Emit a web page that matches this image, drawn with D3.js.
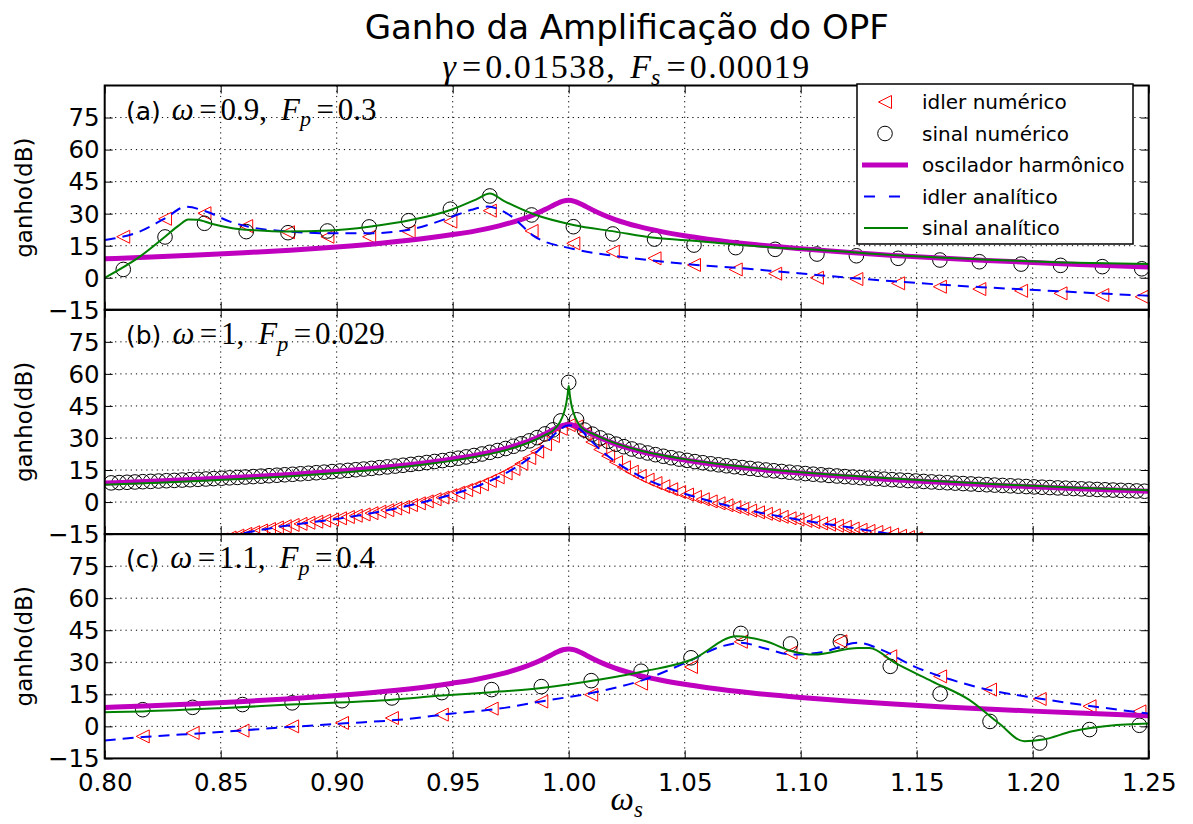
<!DOCTYPE html>
<html>
<head>
<meta charset="utf-8">
<script src="https://cdn.jsdelivr.net/npm/d3@7"></script>
<style>
  body { margin: 0; background: #fff; }
  svg { display: block; }
</style>
</head>
<body>
<svg id="fig" width="1193" height="824"></svg>
<script>
// ---------- axis ticks ----------
const xTicks = [0.80, 0.85, 0.90, 0.95, 1.00, 1.05, 1.10, 1.15, 1.20, 1.25];
const yTicks = [-15, 0, 15, 30, 45, 60, 75];

// ---------- harmonic oscillator gain (same in all panels) ----------
const hoOmega = [0.80, 0.82, 0.84, 0.86, 0.88, 0.90, 0.92, 0.94, 0.95, 0.96, 0.97, 0.98, 0.985, 0.99, 0.9925, 0.995, 0.9975, 1.0,
                 1.0025, 1.005, 1.0075, 1.01, 1.015, 1.02, 1.03, 1.04, 1.05, 1.06, 1.08, 1.10, 1.12, 1.14, 1.16, 1.18, 1.20, 1.22, 1.25];
const hoGain  = [8.87, 9.69, 10.62, 11.69, 12.93, 14.42, 16.27, 18.68, 20.22, 21.96, 24.30, 27.46, 29.52, 32.02, 33.41, 34.77, 35.85, 36.26,
                 35.80, 34.69, 33.31, 31.90, 29.37, 27.26, 24.02, 21.60, 19.68, 18.09, 15.53, 13.55, 11.89, 10.47, 9.23, 8.13, 7.13, 6.22, 5.00];

// ---------- panel (a): omega = 0.9, Fp = 0.3 ----------
const aNumOmega = [0.808, 0.826, 0.843, 0.861, 0.879, 0.896, 0.914, 0.931, 0.949, 0.966, 0.984, 1.002, 1.019,
                   1.037, 1.054, 1.072, 1.089, 1.107, 1.124, 1.142, 1.160, 1.177, 1.195, 1.212, 1.230, 1.247];
const aIdlerNum = [19.2, 27.6, 30.2, 24.2, 21.3, 19.2, 19.2, 21.6, 26.3, 31.4, 21.9, 16.1, 12.2,
                   9.1, 6.0, 3.9, 1.9, 0.0, -0.6, -2.6, -4.2, -5.3, -6.1, -7.3, -8.1, -8.9];
const aSinalNum = [3.9, 19.1, 25.5, 21.6, 21.1, 21.9, 23.8, 26.7, 32.1, 38.3, 29.4, 23.9, 20.5,
                   18.1, 15.3, 14.1, 13.3, 11.1, 10.3, 9.1, 8.3, 7.5, 6.4, 5.8, 5.2, 4.2];
const aIdlerAnaOmega = [0.800, 0.815, 0.826, 0.835, 0.844, 0.854, 0.862, 0.880, 0.897, 0.913, 0.932, 0.949, 0.958, 0.965, 0.975,
                        0.985, 1.002, 1.020, 1.037, 1.055, 1.072, 1.090, 1.108, 1.125, 1.143, 1.160, 1.178, 1.195, 1.213, 1.230, 1.250];
const aIdlerAna = [17.7, 21.6, 27.8, 33.2, 30.9, 26.3, 23.9, 21.6, 20.8, 20.8, 22.7, 28.3, 31.8, 33.3, 29.0,
                   19.5, 13.5, 10.2, 8.0, 6.0, 4.7, 3.0, 1.2, -0.4, -1.9, -3.2, -4.4, -5.4, -6.4, -7.4, -8.4];
const aSinalAnaOmega = [0.800, 0.815, 0.826, 0.832, 0.836, 0.840, 0.846, 0.855, 0.865, 0.878, 0.897, 0.914, 0.932, 0.950, 0.960,
                        0.966, 0.972, 0.985, 1.002, 1.020, 1.037, 1.055, 1.072, 1.090, 1.108, 1.143, 1.178, 1.213, 1.250];
const aSinalAna = [0.0, 9.8, 19.2, 24.5, 27.3, 27.2, 25.3, 23.2, 22.2, 21.6, 22.1, 23.9, 27.0, 32.1, 36.6,
                   39.4, 36.0, 29.7, 24.7, 21.6, 18.7, 17.2, 15.6, 14.1, 13.0, 10.4, 8.6, 7.2, 6.4];

// ---------- panel (b): omega = 1, Fp = 0.029 ----------
const bNumOmega = [
  0.8028, 0.8062, 0.8096, 0.8130, 0.8164, 0.8198, 0.8232, 0.8266, 0.8300, 0.8334,
  0.8368, 0.8402, 0.8436, 0.8470, 0.8504, 0.8538, 0.8572, 0.8606, 0.8640, 0.8674,
  0.8708, 0.8742, 0.8776, 0.8810, 0.8844, 0.8878, 0.8912, 0.8946, 0.8980, 0.9014,
  0.9048, 0.9082, 0.9116, 0.9150, 0.9184, 0.9218, 0.9252, 0.9286, 0.9320, 0.9354,
  0.9388, 0.9422, 0.9456, 0.9490, 0.9524, 0.9558, 0.9592, 0.9626, 0.9660, 0.9694,
  0.9728, 0.9762, 0.9796, 0.9830, 0.9864, 0.9898, 0.9932, 0.9966, 1.0000,
  1.0034, 1.0068, 1.0102, 1.0136, 1.0170, 1.0204, 1.0238, 1.0272, 1.0306, 1.0340,
  1.0374, 1.0408, 1.0442, 1.0476, 1.0510, 1.0544, 1.0578, 1.0612, 1.0646, 1.0680,
  1.0714, 1.0748, 1.0782, 1.0816, 1.0850, 1.0884, 1.0918, 1.0952, 1.0986, 1.1020,
  1.1054, 1.1088, 1.1122, 1.1156, 1.1190, 1.1224, 1.1258, 1.1292, 1.1326, 1.1360,
  1.1394, 1.1428, 1.1462, 1.1496, 1.1530, 1.1564, 1.1598, 1.1632, 1.1666, 1.1700,
  1.1734, 1.1768, 1.1802, 1.1836, 1.1870, 1.1904, 1.1938, 1.1972, 1.2006, 1.2040,
  1.2074, 1.2108, 1.2142, 1.2176, 1.2210, 1.2244, 1.2278, 1.2312, 1.2346, 1.2380,
  1.2414, 1.2448, 1.2482];
const bSinalNum = [
  8.98, 9.12, 9.25, 9.40, 9.54, 9.68, 9.84, 9.99, 10.14, 10.30,
  10.46, 10.63, 10.80, 10.98, 11.16, 11.34, 11.53, 11.72, 11.92, 12.12,
  12.33, 12.55, 12.77, 13.00, 13.24, 13.48, 13.73, 13.99, 14.26, 14.54,
  14.83, 15.13, 15.44, 15.77, 16.11, 16.46, 16.83, 17.22, 17.63, 18.06,
  18.51, 18.99, 19.42, 19.95, 20.53, 21.13, 21.79, 22.50, 23.28, 24.13,
  25.07, 26.12, 27.30, 28.64, 30.16, 31.90, 33.78, 38.0, 56.0,
  38.5, 33.72, 31.80, 30.03, 28.48, 27.12, 25.91, 24.84, 23.87, 22.98,
  22.18, 21.43, 20.75, 20.11, 19.51, 18.94, 18.41, 17.91, 17.44, 16.99,
  16.55, 16.14, 15.74, 15.36, 15.00, 14.65, 14.31, 13.97, 13.65, 13.34,
  13.04, 12.75, 12.47, 12.20, 11.93, 11.68, 11.43, 11.18, 10.95, 10.72,
  10.49, 10.28, 10.07, 9.85, 9.65, 9.44, 9.24, 9.04, 8.85, 8.66,
  8.48, 8.29, 8.11, 7.94, 7.77, 7.60, 7.43, 7.26, 7.10, 6.94,
  6.79, 6.63, 6.48, 6.33, 6.18, 6.04, 5.89, 5.75, 5.61, 5.47,
  5.33, 5.20, 5.07];
const bIdlerNum = [
  null, null, null, null, null, null, null, null, null, null,
  null, null, null, null, -17.5, -16.6, -15.7, -14.9, -14.1, -13.3,
  -12.6, -11.9, -11.3, -10.7, -10.2, -9.7, -9.2, -8.7, -8.2, -7.6,
  -7.0, -6.4, -5.8, -5.2, -4.5, -3.8, -3.0, -2.3, -1.4, -0.6,
  0.3, 1.3, 2.1, 3.2, 4.4, 5.6, 6.9, 8.3, 9.9, 11.6,
  13.4, 15.5, 17.9, 20.6, 23.6, 27.1, 30.9, 34.3, 36.0,
  35.4, 31.9, 28.1, 24.6, 21.5, 18.7, 16.3, 14.2, 12.2, 10.5,
  8.9, 7.4, 6.0, 4.7, 3.5, 2.4, 1.3, 0.3, -0.6, -1.5,
  -2.4, -3.2, -4.0, -4.8, -5.5, -6.2, -6.9, -7.6, -8.2, -8.8,
  -9.4, -10.0, -10.6, -11.1, -11.6, -12.4, -13.0, -13.5, -14.0, -14.6,
  -15.2, -15.8, -16.4, -17.0, null, null, null, null, null, null,
  null, null, null, null, null, null, null, null, null, null,
  null, null, null, null, null, null, null, null, null, null,
  null, null, null];
const bIdlerAnaOmega = [0.845, 0.86, 0.88, 0.90, 0.92, 0.94, 0.95, 0.96, 0.97, 0.98, 0.985, 0.99, 0.995, 1.0,
                        1.005, 1.01, 1.015, 1.02, 1.03, 1.04, 1.05, 1.06, 1.08, 1.10, 1.12, 1.14, 1.155];
const bIdlerAna = [-19.0, -14.6, -10.8, -7.9, -4.2, 0.7, 3.7, 7.2, 11.9, 18.2, 22.3, 27.3, 32.8, 36.0,
                   33.9, 28.3, 23.2, 19.0, 12.5, 7.7, 3.9, 0.7, -4.4, -8.4, -11.7, -15.2, -18.0];
const bSinalAnaOmega = [0.80, 0.82, 0.84, 0.86, 0.88, 0.90, 0.92, 0.94, 0.95, 0.96, 0.97, 0.98, 0.985, 0.99, 0.993,
                        0.996, 0.998, 0.999, 0.9995, 1.0, 1.0005, 1.001, 1.002, 1.004, 1.007, 1.01, 1.015, 1.02,
                        1.03, 1.04, 1.05, 1.06, 1.08, 1.10, 1.12, 1.14, 1.16, 1.18, 1.20, 1.22, 1.25];
const bSinalAna = [8.1, 8.9, 9.8, 10.9, 12.1, 13.6, 15.5, 17.9, 19.4, 21.2, 23.5, 26.7, 28.8, 31.4, 33.3,
                   37.0, 42.0, 46.5, 50.0, 54.5, 50.0, 46.5, 42.0, 37.0, 33.6, 32.2, 29.7, 27.6,
                   24.4, 22.0, 20.1, 18.5, 16.0, 14.0, 12.4, 11.0, 9.7, 8.6, 7.6, 6.7, 5.5];

// ---------- panel (c): omega = 1.1, Fp = 0.4 ----------
const cNumOmega = [0.8164, 0.8379, 0.8594, 0.8808, 0.9023, 0.9238, 0.9453, 0.9668, 0.9882, 1.0097, 1.0312,
                   1.0527, 1.0742, 1.0956, 1.1171, 1.1386, 1.1601, 1.1816, 1.2030, 1.2245, 1.2460];
const cIdlerNum = [-4.7, -3.1, -2.0, 0.0, 1.6, 3.9, 5.5, 8.3, 11.6, 14.8, 20.0,
                   27.8, 39.6, 34.5, 39.8, 32.8, 23.4, 17.2, 12.8, 9.4, 7.0];
const cSinalNum = [7.8, 8.9, 10.2, 11.0, 12.0, 13.3, 15.8, 17.2, 18.6, 21.4, 25.8,
                   32.1, 43.5, 38.6, 39.6, 28.1, 15.2, 2.3, -7.8, -1.5, 0.5];
const cIdlerAnaOmega = [0.800, 0.8164, 0.844, 0.873, 0.902, 0.927, 0.950, 0.970, 0.990, 1.0135, 1.0326, 1.0502, 1.0661,
                        1.0741, 1.0852, 1.0963, 1.109, 1.1249, 1.1345, 1.1488, 1.1647, 1.1806, 1.2013, 1.2204, 1.250];
const cIdlerAna = [-6.6, -5.0, -3.1, -0.8, 1.3, 3.1, 6.0, 8.3, 12.0, 16.4, 21.9, 29.7, 37.5,
                   39.1, 36.3, 33.6, 34.7, 39.1, 36.0, 28.1, 21.9, 17.2, 13.3, 10.2, 6.0];
const cSinalAnaOmega = [0.800, 0.8164, 0.850, 0.880, 0.9238, 0.9453, 0.9668, 0.9882, 1.0135, 1.0326, 1.0532, 1.0723,
                        1.085, 1.0962, 1.1057, 1.1248, 1.1296, 1.1407, 1.1566, 1.1725, 1.1853, 1.1964, 1.2044,
                        1.2171, 1.233, 1.250];
const cSinalAna = [6.6, 7.0, 8.5, 10.2, 12.5, 14.4, 16.0, 18.0, 21.9, 25.8, 31.3, 42.2,
                   39.8, 35.2, 33.6, 36.7, 36.7, 29.7, 21.1, 12.5, 1.6, -7.0, -6.2,
                   -2.3, 0.3, 1.3];

// ---------- panel descriptions ----------
const panelTags = ["(a)", "(b)", "(c)"];
const panelOmega = ["0.9", "1", "1.1"];
const panelFp = ["0.3", "0.029", "0.4"];

const legendLabels = ["idler numérico", "sinal numérico", "oscilador harmônico", "idler analítico", "sinal analítico"];

// ---------- layout ----------
const svg = d3.select("#fig");
const X0 = 104.7, X1 = 1148.7;
const TOP = 85.5, PH = 224.3;
const colors = { idler: "#ff0000", sinal: "#000000", ho: "#bf00bf", idlerAna: "#0000ff", sinalAna: "#008000" };
const sans = "'DejaVu Sans', sans-serif";
const serif = "'Liberation Serif', 'DejaVu Serif', serif";

const x = d3.scaleLinear().domain([0.80, 1.25]).range([X0, X1]);

function zip(ws, vs) {
  const out = [];
  ws.forEach((w, i) => { if (vs[i] !== null && vs[i] !== undefined) out.push([w, vs[i]]); });
  return out;
}

const panels = [
  { idlerNum: zip(aNumOmega, aIdlerNum), sinalNum: zip(aNumOmega, aSinalNum),
    idlerAna: zip(aIdlerAnaOmega, aIdlerAna), sinalAna: zip(aSinalAnaOmega, aSinalAna) },
  { idlerNum: zip(bNumOmega, bIdlerNum), sinalNum: zip(bNumOmega, bSinalNum),
    idlerAna: zip(bIdlerAnaOmega, bIdlerAna), sinalAna: zip(bSinalAnaOmega, bSinalAna) },
  { idlerNum: zip(cNumOmega, cIdlerNum), sinalNum: zip(cNumOmega, cSinalNum),
    idlerAna: zip(cIdlerAnaOmega, cIdlerAna), sinalAna: zip(cSinalAnaOmega, cSinalAna) }
];
const hoData = zip(hoOmega, hoGain);

const defs = svg.append("defs");
const triPath = "M -6.5,0 L 6.5,-6.5 L 6.5,6.5 Z";

// math-style label: italic symbol, optional subscript, "=" with spacing, value
function mathPart(t, sym, subscr, value, size, first, spacing) {
  const s1 = t.append("tspan").style("font-family", serif).style("font-style", "italic")
    .style("font-size", size + "px").text(sym);
  if (first !== undefined) s1.attr("dx", first);
  if (subscr) {
    t.append("tspan").style("font-family", serif).style("font-style", "italic")
      .style("font-size", Math.round(size * 0.7) + "px").attr("dy", size * 0.22).text(subscr);
  }
  t.append("tspan").style("font-family", serif).style("font-size", size + "px")
    .attr("dx", size * 0.18).attr("dy", subscr ? -size * 0.22 : null).text("=");
  t.append("tspan").style("font-family", serif).style("font-size", size + "px")
    .style("letter-spacing", (spacing || 0) + "px")
    .attr("dx", size * 0.12).text(value);
}

panels.forEach((p, i) => {
  const top = TOP + i * PH, bottom = top + PH;
  const y = d3.scaleLinear().domain([-15, 90]).range([bottom, top]);
  const g = svg.append("g");

  defs.append("clipPath").attr("id", "clip" + i)
    .append("rect").attr("x", X0).attr("y", top).attr("width", X1 - X0).attr("height", PH);

  // dotted grid
  const grid = g.append("g").attr("stroke", "#000").attr("stroke-width", 1).attr("stroke-dasharray", "1.2,4");
  grid.selectAll(".gx").data(xTicks.slice(1, -1)).join("line")
    .attr("x1", d => x(d)).attr("x2", d => x(d)).attr("y1", top).attr("y2", bottom);
  grid.selectAll(".gy").data(yTicks.slice(1)).join("line")
    .attr("x1", X0).attr("x2", X1).attr("y1", d => y(d)).attr("y2", d => y(d));

  const plot = g.append("g").attr("clip-path", `url(#clip${i})`);
  const line = d3.line().x(d => x(d[0])).y(d => y(d[1])).curve(d3.curveMonotoneX);

  // idler numeric: hollow left-pointing triangles
  plot.append("g").selectAll("path").data(p.idlerNum).join("path")
    .attr("d", triPath)
    .attr("transform", d => `translate(${x(d[0])},${y(d[1])})`)
    .attr("fill", "none").attr("stroke", colors.idler).attr("stroke-width", 1);

  // signal numeric: hollow circles
  plot.append("g").selectAll("circle").data(p.sinalNum).join("circle")
    .attr("cx", d => x(d[0])).attr("cy", d => y(d[1])).attr("r", 7.3)
    .attr("fill", "none").attr("stroke", colors.sinal).attr("stroke-width", 1);

  // harmonic oscillator
  plot.append("path").datum(hoData).attr("d", line)
    .attr("fill", "none").attr("stroke", colors.ho).attr("stroke-width", 5);

  // idler analytic (dashed)
  plot.append("path").datum(p.idlerAna).attr("d", line)
    .attr("fill", "none").attr("stroke", colors.idlerAna).attr("stroke-width", 2)
    .attr("stroke-dasharray", "11,7");

  // signal analytic
  plot.append("path").datum(p.sinalAna).attr("d", line)
    .attr("fill", "none").attr("stroke", colors.sinalAna).attr("stroke-width", 2);

  // axes with inward ticks on all sides
  const fmt = d => (d < 0 ? "\u2212" + Math.abs(d) : String(d));
  const yLeft = g.append("g").attr("transform", `translate(${X0},0)`)
    .call(d3.axisLeft(y).tickValues(yTicks).tickSize(-8).tickPadding(5).tickFormat(fmt));
  const yRight = g.append("g").attr("transform", `translate(${X1},0)`)
    .call(d3.axisRight(y).tickValues(yTicks).tickSize(-8).tickFormat(""));
  const xTop = g.append("g").attr("transform", `translate(0,${top})`)
    .call(d3.axisTop(x).tickValues(xTicks).tickSize(-8).tickFormat(""));
  const xBot = g.append("g").attr("transform", `translate(0,${bottom})`)
    .call(d3.axisBottom(x).tickValues(xTicks).tickSize(-8).tickPadding(15)
      .tickFormat(i === 2 ? d3.format(".2f") : ""));
  [yLeft, yRight, xTop, xBot].forEach(a => {
    a.select(".domain").remove();
    a.selectAll(".tick line").attr("stroke", "#000").attr("stroke-width", 1);
    a.selectAll("text").attr("fill", "#000").style("font-family", sans).style("font-size", "24.5px");
  });
  yLeft.selectAll("text").attr("dy", "0.34em");

  // frame
  g.append("rect").attr("x", X0).attr("y", top).attr("width", X1 - X0).attr("height", PH)
    .attr("fill", "none").attr("stroke", "#000").attr("stroke-width", 2);

  // y label
  g.append("text").attr("transform", `translate(32,${top + PH / 2}) rotate(-90)`)
    .attr("text-anchor", "middle").style("font-family", sans).style("font-size", "23px")
    .text("ganho(dB)");

  // panel annotation
  const t = g.append("text").attr("x", 126).attr("y", top + 34);
  t.append("tspan").style("font-family", sans).style("font-size", "25px").text(panelTags[i]);
  mathPart(t, "ω", null, panelOmega[i] + ",", 31, 11);
  mathPart(t, "F", "p", panelFp[i], 31, 14);
});

// ---------- title ----------
svg.append("text").attr("x", (X0 + X1) / 2).attr("y", 39).attr("text-anchor", "middle")
  .style("font-family", sans).style("font-size", "34px").text("Ganho da Amplificação do OPF");
const sub = svg.append("text").attr("x", (X0 + X1) / 2).attr("y", 78).attr("text-anchor", "middle");
mathPart(sub, "γ", null, "0.01538,", 34, undefined, 1.5);
mathPart(sub, "F", "s", "0.00019", 34, 14, 1.5);

// x label
const xl = svg.append("text").attr("x", (X0 + X1) / 2).attr("y", 810).attr("text-anchor", "middle")
  .style("font-family", serif).style("font-size", "33px");
xl.append("tspan").style("font-style", "italic").text("ω");
xl.append("tspan").style("font-style", "italic").attr("dy", 7).style("font-size", "23px").text("s");

// ---------- legend ----------
const lg = svg.append("g");
lg.append("rect").attr("x", 857).attr("y", 84).attr("width", 276).attr("height", 160)
  .attr("fill", "#fff").attr("stroke", "#000").attr("stroke-width", 1.5);
const rows = [102, 133.5, 165, 196.5, 228];
legendLabels.forEach((lab, i) => {
  const yy = rows[i];
  if (i === 0) lg.append("path").attr("d", triPath).attr("transform", `translate(885,${yy})`)
    .attr("fill", "none").attr("stroke", colors.idler);
  if (i === 1) lg.append("circle").attr("cx", 885).attr("cy", yy).attr("r", 7.3)
    .attr("fill", "none").attr("stroke", colors.sinal);
  if (i === 2) lg.append("line").attr("x1", 862).attr("x2", 908).attr("y1", yy).attr("y2", yy)
    .attr("stroke", colors.ho).attr("stroke-width", 5);
  if (i === 3) lg.append("line").attr("x1", 864).attr("x2", 908).attr("y1", yy).attr("y2", yy)
    .attr("stroke", colors.idlerAna).attr("stroke-width", 2).attr("stroke-dasharray", "11,14");
  if (i === 4) lg.append("line").attr("x1", 864).attr("x2", 908).attr("y1", yy).attr("y2", yy)
    .attr("stroke", colors.sinalAna).attr("stroke-width", 2);
  lg.append("text").attr("x", 922).attr("y", yy).attr("dy", "0.36em")
    .style("font-family", sans).style("font-size", "20px").text(lab);
});
</script>
</body>
</html>
